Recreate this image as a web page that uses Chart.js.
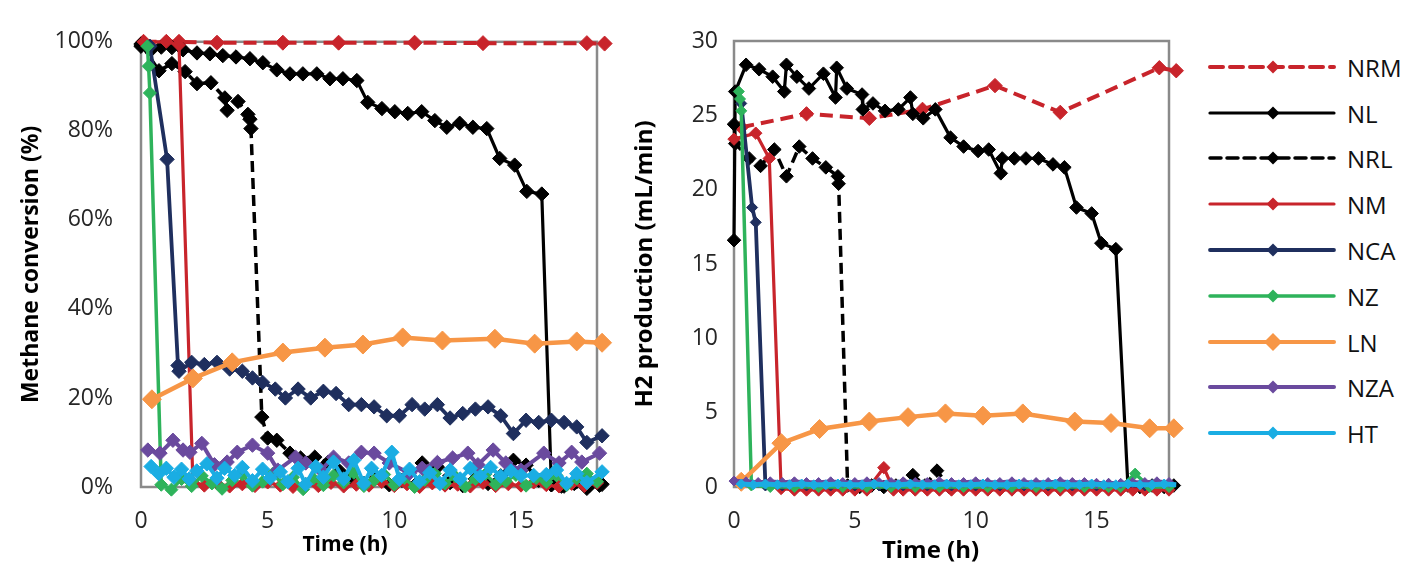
<!DOCTYPE html>
<html><head><meta charset="utf-8">
<script src="https://cdn.jsdelivr.net/npm/chart.js@4.4.1/dist/chart.umd.min.js"></script>
<style>
html,body{margin:0;padding:0;background:#fff;width:1407px;height:562px;overflow:hidden;font-family:'Open Sans',sans-serif;}
canvas{position:absolute;top:0;}
#c1{left:0;}
#c2{left:620px;}
#legend{position:absolute;left:0;top:0;}
.row{position:absolute;left:1205px;height:40px;display:flex;align-items:center;font-size:24px;color:#111;}
.row svg{margin-right:8px;}
</style></head>
<body>
<canvas id="c1" width="620" height="562"></canvas>
<canvas id="c2" width="570" height="562"></canvas>
<div id="legend"></div>
<script>
// ---------- categories ----------
const seriesNames = ['NRM','NL','NRL','NM','NCA','NZ','LN','NZA','HT'];
const xTickValues = [0,5,10,15];
const convTickValues = [0,20,40,60,80,100];
const h2TickValues = [0,5,10,15,20,25,30];

// ---------- LEFT: methane conversion (%) ----------
const convNRM_t = [0.1,1.0,1.5,3.0,5.6,7.8,10.8,13.5,17.6,18.3];
const convNRM_v = [100,100,100,99.8,99.8,99.8,99.8,99.7,99.7,99.6];

const convNL_t = [0,0.4,0.8,1.22,1.66,2.21,2.72,3.23,3.75,4.30,4.81,5.36,5.88,6.39,6.94,7.46,7.97,8.52,8.95,9.51,10.02,10.53,11.08,11.6,12.07,12.58,13.1,13.65,14.16,14.75,15.23,15.82,16.2,16.6,17.1,17.6,18.1];
const convNL_v = [99,98.2,98.8,98.7,98.2,97.5,97.3,96.9,96.6,96.2,95.3,93.7,92.8,92.8,92.8,91.7,91.7,91.3,86.4,85.0,84.3,83.9,84.3,82.3,80.8,81.7,80.8,80.5,73.8,72.3,66.4,65.8,0.5,0.2,0.8,-0.3,0.4];

const convNRL_t = [0,0.71,1.22,1.74,2.21,2.76,3.31,3.4,3.83,4.22,4.3,4.34,4.77,5.0,5.36,5.88,6.3,6.86,7.38,7.85,8.3,8.8,9.3,9.8,10.3,10.8,11.1,11.7,12.2,12.7,13.2,13.7,14.2,14.7,15.2,15.7,16.2,16.7,17.2,17.7,18.2];
const convNRL_v = [99.5,93.5,95.1,93.3,90.6,90.8,87.4,84.6,86.6,83.7,82.6,80.5,15.7,11.0,10.5,7.6,6.5,6.7,5.5,3.5,2.0,0.8,2.2,0.5,1.5,0.3,5.4,4.5,1.0,0.3,1.8,0.8,2.5,6.0,4.9,1.5,0.5,0.2,1.2,0.3,0.6];

const convNM_t = [0.1,1.0,1.5,2.05,2.5,3.0,3.5,4.0,4.5,5.0,5.5,6.0,6.5,7.0,7.5,8.0,8.5,9.0,9.5,10.0,10.5,11.0,11.5,12.0,12.5,13.0,13.5,14.0,14.5,15.0,15.5,16.0,16.5,17.0,17.5,18.0,18.3];
const convNM_v = [100,100,99.3,1.0,0.3,0.8,0.1,0.6,0.2,1.0,0.3,0.0,0.7,0.2,0.9,0.1,0.5,0.3,1.1,0.2,0.6,0.0,0.8,0.3,0.5,0.1,0.9,0.2,0.6,0.3,1.0,0.4,0.1,0.7,0.2,0.9,0.4];

const convNCA_t = [0.35,1.03,1.46,1.5,2.0,2.5,3.0,3.5,4.0,4.4,4.8,5.3,5.7,6.2,6.7,7.2,7.7,8.2,8.7,9.2,9.7,10.2,10.7,11.2,11.7,12.2,12.7,13.2,13.7,14.2,14.7,15.2,15.7,16.2,16.7,17.2,17.6,18.2];
const convNCA_v = [99,73.6,27.3,26,28,27.5,28,26.5,26,24.5,23.5,22,20,22,20,21.5,21,18.5,18.5,18,16,16,18.5,17.5,18.5,15.5,16.5,17.5,18,16,12,15,14.5,15,14.5,13.5,10,11.5];

const convNZ_t = [0.25,0.3,0.35,0.8,1.2,1.6,2.0,2.4,2.8,3.2,3.6,4.0,4.4,4.8,5.2,5.6,6.0,6.4,6.8,7.2,7.6,8.0,8.4,8.8,9.2,9.6,10.0,10.4,10.8,11.2,11.6,12.0,12.4,12.8,13.2,13.6,14.0,14.4,14.8,15.2,15.6,16.0,16.4,16.8,17.2,17.6,18.0,18.3];
const convNZ_v = [99,94.5,88.5,0.5,-0.6,1.8,0.2,2.5,0.8,-0.4,1.5,2.8,0.3,1.2,3.0,0.6,2.2,-0.5,1.9,0.4,2.6,1.0,3.2,0.2,1.5,2.8,0.5,2.0,0.0,1.6,3.0,0.8,2.4,0.1,1.8,2.9,0.6,1.3,2.7,0.3,2.0,1.1,2.6,0.4,1.9,3.0,1.2,2.4];

const convLN_t = [0.43,2.05,3.6,5.6,7.26,8.76,10.33,11.9,13.97,15.54,17.2,18.2];
const convLN_v = [19.7,24.4,28.0,30.2,31.3,32.0,33.6,32.9,33.3,32.2,32.7,32.4];

const convNZA_t = [0.27,0.75,1.26,1.66,1.93,2.4,2.9,3.4,3.8,4.4,5.0,5.4,6.1,6.5,7.1,7.6,8.2,8.7,9.2,9.8,10.6,11.1,11.7,12.3,12.9,13.3,13.9,14.4,15.0,15.9,16.5,17.0,17.4,18.1];
const convNZA_v = [8.3,7.6,10.5,8.3,7.8,9.8,5.0,5.6,7.8,9.4,7.6,3.8,6.7,5.4,3.8,6.7,5.4,7.8,7.6,5.4,3.1,4.2,5.5,6.5,7.6,5.0,8.3,5.4,3.8,7.6,5.4,7.8,5.6,7.6];

const convHT_t = [0.4,0.7,1.0,1.3,1.6,1.9,2.2,2.6,3.0,3.3,3.7,4.0,4.4,4.8,5.1,5.5,5.8,6.2,6.5,6.9,7.2,7.6,8.0,8.4,8.8,9.1,9.5,9.9,10.2,10.6,11.0,11.4,11.8,12.2,12.6,13.0,13.4,13.8,14.2,14.6,15.0,15.5,16.0,16.4,16.8,17.2,17.6,18.2];
const convHT_v = [4.6,3.0,4.2,2.2,4.0,1.8,3.6,5.2,2.0,4.2,2.6,4.4,1.4,4.0,2.0,3.4,1.2,4.2,0.6,4.6,2.2,5.6,1.8,6.0,0.8,4.2,2.6,7.8,1.8,4.0,1.2,3.2,0.8,3.8,1.8,4.2,2.4,4.4,2.4,3.6,2.6,2.6,2.8,3.8,0.8,3.0,1.0,3.4];

// ---------- RIGHT: H2 production (mL/min) ----------
const h2NRM_t = [0.3,3.0,5.6,7.8,10.8,13.5,17.6,18.3];
const h2NRM_v = [24.2,25.1,24.8,25.4,27.0,25.2,28.2,28.0];

const h2NL_t = [0,0.05,0.5,1.04,1.6,2.08,2.17,2.6,3.1,3.7,4.2,4.25,4.67,5.3,5.33,5.75,6.25,6.8,7.3,7.4,7.83,8.33,8.96,9.5,10.1,10.54,11.04,11.1,11.6,12.08,12.6,13.2,13.67,14.17,14.8,15.2,15.8,16.3,16.8,17.3,17.8,18.2];
const h2NL_v = [16.6,26.6,28.4,28.1,27.6,26.6,28.4,27.6,26.8,27.8,26.2,28.2,26.8,26.4,25.4,25.8,25.3,25.4,26.2,25.1,24.8,25.4,23.5,22.9,22.6,22.7,21.1,22.1,22.1,22.1,22.1,21.7,21.5,18.8,18.4,16.4,16.0,0.1,0.0,0.1,0.0,0.1];

const h2NRL_t = [0,0.05,0.63,1.1,1.67,2.17,2.7,3.25,3.8,4.3,4.33,4.7,5.2,5.7,6.2,6.7,7.4,7.9,8.4,8.9,9.5,10.0,10.5,11.0,11.5,12.0,12.5,13.0,13.5,14.0,14.5,15.0,15.5,16.0,16.5,17.0,17.5,18.0];
const h2NRL_v = [24.4,23.1,22.1,21.6,22.7,20.9,22.9,22.1,21.5,20.9,20.4,0.1,0.0,0.1,0.0,0.1,0.8,0.1,1.1,0.0,0.1,0.0,0.1,0.0,0.1,0.0,0.1,0.0,0.1,0.0,0.1,0.0,0.1,0.0,0.1,0.0,0.1,0.0];

const h2NM_t = [0,0.9,1.46,1.95,2.5,3.0,3.5,4.0,4.5,5.0,5.5,6.2,6.6,7.0,7.5,8.0,8.5,9.0,9.5,10.0,10.5,11.0,11.5,12.0,12.5,13.0,13.5,14.0,14.5,15.0,15.5,16.0,16.5,17.0,17.5,18.0,18.3];
const h2NM_v = [23.4,23.8,22.1,-0.1,-0.2,-0.2,-0.2,-0.2,-0.2,-0.2,-0.2,1.3,-0.2,-0.2,-0.2,-0.2,-0.2,-0.2,-0.2,-0.2,-0.2,-0.2,-0.2,-0.2,-0.2,-0.2,-0.2,-0.2,-0.2,-0.2,-0.2,-0.2,-0.2,-0.2,-0.2,-0.2,-0.2];

const h2NCA_t = [0.3,0.75,0.9,1.3,2.0,3.0,4.0,5.0,6.0,7.0,8.0,9.0,10.0,11.0,12.0,13.0,14.0,15.0,16.0,17.0,18.0];
const h2NCA_v = [25.8,18.8,17.8,0.1,0.1,0.1,0.1,0.1,0.1,0.1,0.1,0.1,0.1,0.1,0.1,0.1,0.1,0.1,0.1,0.1,0.1];

const h2NZ_t = [0.2,0.25,0.3,0.72,1.5,2.5,3.5,4.5,5.5,6.5,7.5,8.5,9.5,10.5,11.5,12.5,13.5,14.5,15.5,16.0,16.6,17.2,18.0];
const h2NZ_v = [26.6,26.1,25.3,0.1,0.0,0.0,0.0,0.0,0.0,0.0,0.0,0.0,0.0,0.0,0.0,0.0,0.0,0.0,0.0,0.0,0.9,0.0,0.0];

const h2LN_t = [0.3,1.96,3.54,5.6,7.2,8.75,10.3,11.95,14.1,15.6,17.2,18.2];
const h2LN_v = [0.35,2.95,3.9,4.4,4.7,4.95,4.8,4.95,4.4,4.3,3.95,3.95];

const h2NZA_t = [0,0.5,1.0,1.5,2.0,2.5,3.0,3.5,4.0,4.5,5.0,5.5,6.0,6.5,7.0,7.5,8.0,8.5,9.0,9.5,10.0,10.5,11.0,11.5,12.0,12.5,13.0,13.5,14.0,14.5,15.0,15.5,16.0,16.5,17.0,17.5,18.0];
const h2NZA_v = [0.4,0.35,0.3,0.35,0.3,0.35,0.3,0.3,0.35,0.3,0.3,0.35,0.3,0.3,0.35,0.3,0.3,0.35,0.3,0.3,0.35,0.3,0.3,0.35,0.3,0.3,0.3,0.35,0.3,0.3,0.25,0.25,0.25,0.3,0.3,0.35,0.3];

const h2HT_t = [0.3,0.8,1.3,1.8,2.3,2.8,3.3,3.8,4.3,4.8,5.3,5.8,6.3,6.8,7.3,7.8,8.3,8.8,9.3,9.8,10.3,10.8,11.3,11.8,12.3,12.8,13.3,13.8,14.3,14.8,15.3,15.8,16.3,16.8,17.3,17.8,18.3];
const h2HT_v = [0.2,0.15,0.2,0.15,0.15,0.2,0.15,0.15,0.2,0.15,0.15,0.2,0.15,0.15,0.2,0.15,0.15,0.2,0.15,0.15,0.2,0.15,0.15,0.2,0.15,0.15,0.2,0.15,0.15,0.2,0.15,0.15,0.2,0.15,0.15,0.2,0.15];

// ---------- styles ----------
const styles = {
  NRM:{color:'#C8242B', width:4, dash:[13,7], r:7.5},
  NL:{color:'#000000', width:3.2, dash:[], r:7.2},
  NRL:{color:'#000000', width:3.5, dash:[11,6], r:7.2},
  NM:{color:'#C8242B', width:3.2, dash:[], r:6.5},
  NCA:{color:'#1F2F5E', width:3.8, dash:[], r:7.2},
  NZ:{color:'#2EB35B', width:3.5, dash:[], r:6.5},
  LN:{color:'#F79646', width:4.5, dash:[], r:9.5},
  NZA:{color:'#6A4A9E', width:4, dash:[], r:7.2},
  HT:{color:'#1AADE3', width:4, dash:[], r:7.2}
};

function pts(t, v){ return t.map((x,i)=>({x:x, y:v[i]})); }
function mk(name, t, v, idx, rOverride, wOverride){
  const s = styles[name];
  const r = rOverride && rOverride[name] !== undefined ? rOverride[name] : s.r;
  const w = wOverride && wOverride[name] !== undefined ? wOverride[name] : s.width;
  return {label:name, data:pts(t,v), borderColor:s.color, backgroundColor:s.color,
    borderWidth:w, borderDash:s.dash, pointStyle:'rectRot', pointRadius:r,
    pointBorderWidth:1, pointBorderColor:s.color, pointBackgroundColor:s.color,
    showLine:true, tension:0, clip:false, order:8-idx};
}

const frame = {id:'frame', beforeDatasetsDraw(chart){
  const {ctx, chartArea:a} = chart;
  ctx.save(); ctx.strokeStyle='#8a8a8a'; ctx.lineWidth=2.5;
  ctx.strokeRect(a.left, a.top, a.right-a.left, a.bottom-a.top);
  ctx.restore();
}};
// x-axis title, centred a little left of the plot centre as in the reference
const xTitle = {id:'xTitle', afterDraw(chart, args, o){
  const {ctx, chartArea:a} = chart;
  ctx.save(); ctx.font = `bold ${o.size}px 'Open Sans', sans-serif`; ctx.fillStyle='#000';
  ctx.textAlign='center'; ctx.textBaseline='middle';
  ctx.fillText(o.text, (a.left+a.right)/2 + o.dx, o.y);
  ctx.restore();
}};

const tickFont = {family:"'Open Sans', sans-serif", size:23};

function makeChart(id, datasets, cfg){
  return new Chart(document.getElementById(id), {
    type:'scatter',
    data:{datasets},
    options:{
      responsive:false, animation:false, devicePixelRatio:1,
      layout:{padding:cfg.padding},
      plugins:{legend:{display:false}, tooltip:{enabled:false},
        xTitle:{text:'Time (h)', size:cfg.xTitleSize, dx:cfg.xTitleDx, y:cfg.xTitleY}},
      scales:{
        x:{type:'linear', min:0, max:18,
          afterBuildTicks:s=>{s.ticks = xTickValues.map(v=>({value:v}));},
          ticks:{font:tickFont, color:'#262626', padding:cfg.xPad, maxRotation:0, autoSkip:false},
          grid:{display:false, drawTicks:false}, border:{display:false},
          afterFit:s=>{s.height = 75;}},
        y:{type:'linear', min:cfg.yMin, max:cfg.yMax,
          afterBuildTicks:s=>{s.ticks = cfg.yTicks.map(v=>({value:v}));},
          ticks:{font:tickFont, color:'#262626', padding:cfg.yPad, callback:cfg.yFmt},
          grid:{display:false, drawTicks:false}, border:{display:false},
          title:{display:true, text:cfg.yTitle, font:{family:"'Open Sans', sans-serif", size:cfg.yTitleSize, weight:'bold'}, color:'#000', padding:{top:cfg.yTitlePad,bottom:0}},
          afterFit:s=>{s.width = cfg.yWidth;}}
      }
    },
    plugins:[frame, xTitle]
  });
}

const leftSets = [
  mk('NRM',convNRM_t,convNRM_v,0), mk('NL',convNL_t,convNL_v,1), mk('NRL',convNRL_t,convNRL_v,2),
  mk('NM',convNM_t,convNM_v,3), mk('NCA',convNCA_t,convNCA_v,4), mk('NZ',convNZ_t,convNZ_v,5),
  mk('LN',convLN_t,convLN_v,6), mk('NZA',convNZA_t,convNZA_v,7), mk('HT',convHT_t,convHT_v,8)
];
const rightR = {NZA:5, HT:5, NCA:5.5, NZ:5.5, NM:6.2, NL:6.8, NRL:6.8, NRM:7.2};
const rightW = {HT:5, NZA:4.5};
const rightSets = [
  mk('NRM',h2NRM_t,h2NRM_v,0,rightR,rightW), mk('NL',h2NL_t,h2NL_v,1,rightR,rightW), mk('NRL',h2NRL_t,h2NRL_v,2,rightR,rightW),
  mk('NM',h2NM_t,h2NM_v,3,rightR,rightW), mk('NCA',h2NCA_t,h2NCA_v,4,rightR,rightW), mk('NZ',h2NZ_t,h2NZ_v,5,rightR,rightW),
  mk('LN',h2LN_t,h2LN_v,6,rightR,rightW), mk('NZA',h2NZA_t,h2NZA_v,7,rightR,rightW), mk('HT',h2HT_t,h2HT_v,8,rightR,rightW)
];

makeChart('c1', leftSets, {padding:{top:40,right:23,bottom:0,left:0}, xPad:21, yPad:28,
  yMin:0, yMax:100, yTicks:convTickValues, yFmt:v=>v+'%', yTitle:'Methane conversion (%)',
  yTitleSize:23, yTitlePad:18, yWidth:141, xTitleSize:21, xTitleDx:-24, xTitleY:545});
makeChart('c2', rightSets, {padding:{top:41,right:21,bottom:0,left:0}, xPad:21, yPad:16,
  yMin:0, yMax:30, yTicks:h2TickValues, yFmt:v=>v, yTitle:'H2 production (mL/min)',
  yTitleSize:24, yTitlePad:11, yWidth:114, xTitleSize:24, xTitleDx:-21, xTitleY:551});

// ---------- legend ----------
const legendY = [67,113,158,204,250,296,342,387,433];
const lg = document.getElementById('legend');
seriesNames.forEach((n,i)=>{
  const s = styles[n];
  const r = n==='LN' ? 9 : 6.5;
  const row = document.createElement('div');
  row.className='row';
  row.style.top = (legendY[i]-20)+'px';
  const dash = s.dash.length ? `stroke-dasharray="${s.dash.join(',')}"` : '';
  row.innerHTML = `<svg width="134" height="40"><line x1="5" y1="20" x2="129" y2="20" stroke="${s.color}" stroke-width="${Math.min(s.width,4)}" ${dash} stroke-linecap="round"/><polygon points="68,${20-r} ${68+r},20 68,${20+r} ${68-r},20" fill="${s.color}"/></svg><span>${n}</span>`;
  lg.appendChild(row);
});
</script>
</body></html>
